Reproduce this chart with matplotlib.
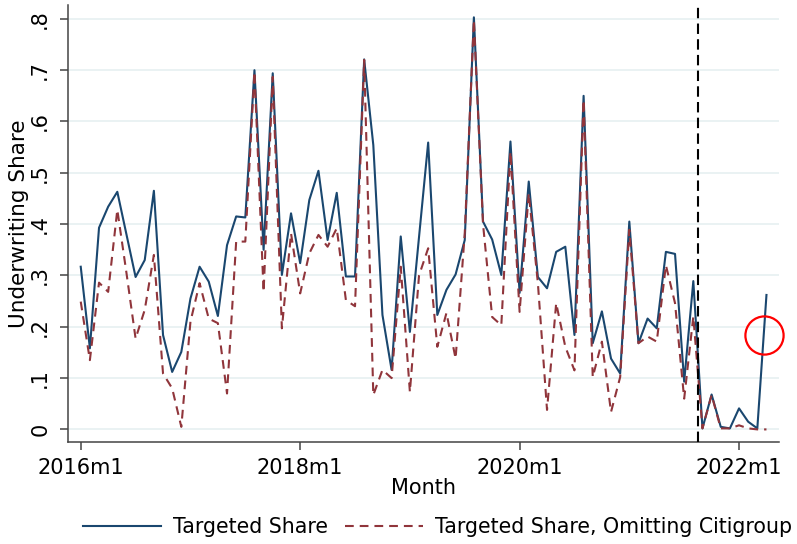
import matplotlib
matplotlib.use("Agg")
import matplotlib.pyplot as plt
import numpy as np
import pandas as pd

# ---- data ----
months = pd.period_range("2016-01", "2022-04", freq="M")
month_labels = [f"{p.year}m{p.month}" for p in months]

targeted_share = [
    0.317, 0.158, 0.393, 0.434, 0.463, 0.380, 0.297, 0.330, 0.465, 0.184, 0.112, 0.151,
    0.255, 0.317, 0.288, 0.221, 0.359, 0.415, 0.413, 0.700, 0.350, 0.694, 0.301, 0.421,
    0.324, 0.447, 0.504, 0.369, 0.461, 0.298, 0.298, 0.721, 0.554, 0.223, 0.116, 0.376,
    0.190, 0.375, 0.559, 0.223, 0.272, 0.302, 0.369, 0.803, 0.405, 0.370, 0.301, 0.561,
    0.266, 0.483, 0.297, 0.275, 0.346, 0.356, 0.184, 0.650, 0.168, 0.230, 0.138, 0.109,
    0.405, 0.168, 0.216, 0.197, 0.346, 0.342, 0.093, 0.289, 0.002, 0.068, 0.005, 0.002,
    0.041, 0.015, 0.002, 0.262,
]
targeted_share_no_citi = [
    0.249, 0.135, 0.286, 0.268, 0.428, 0.305, 0.177, 0.233, 0.340, 0.109, 0.080, 0.005,
    0.210, 0.285, 0.216, 0.207, 0.070, 0.366, 0.366, 0.697, 0.268, 0.687, 0.197, 0.382,
    0.265, 0.343, 0.379, 0.356, 0.392, 0.252, 0.240, 0.720, 0.067, 0.116, 0.100, 0.317,
    0.073, 0.300, 0.353, 0.161, 0.227, 0.138, 0.382, 0.798, 0.400, 0.219, 0.203, 0.541,
    0.229, 0.460, 0.285, 0.038, 0.246, 0.161, 0.115, 0.642, 0.102, 0.171, 0.034, 0.102,
    0.389, 0.168, 0.181, 0.171, 0.320, 0.246, 0.060, 0.220, 0.002, 0.067, 0.002, 0.002,
    0.008, 0.002, 0.000, 0.000,
]
x_tick_labels = ["2016m1", "2018m1", "2020m1", "2022m1"]
y_ticks = [0, 0.1, 0.2, 0.3, 0.4, 0.5, 0.6, 0.7, 0.8]
y_tick_labels = ["0", ".1", ".2", ".3", ".4", ".5", ".6", ".7", ".8"]
event_month = 67.5          # between 2021m8 and 2021m9
circle_x, circle_y = 74.77, 0.184

# ---- plot ----
plt.rcParams["font.family"] = ["DejaVu Sans"]
plt.rcParams["lines.scale_dashes"] = False

fig = plt.figure(figsize=(7.97, 5.44), dpi=100)
ax = fig.add_axes([0.0857, 0.188, 0.9774 - 0.0857, 0.9908 - 0.188])

x = np.arange(len(months))
blue = "#1a476f"
red = "#90353b"

ax.plot(x, targeted_share, color=blue, lw=1.5, label="Targeted Share", zorder=3)
ax.plot(x, targeted_share_no_citi, color=red, lw=1.5, dashes=(6.3, 4.3),
        label="Targeted Share, Omitting Citigroup", zorder=3)
ax.axvline(event_month, color="black", lw=1.5, dashes=(7.5, 3.8), zorder=4)
ax.plot([circle_x], [circle_y], marker="o", ms=27.5, mfc="none", mec="red",
        mew=1.6, zorder=5, linestyle="none", clip_on=False)

ax.set_xlim(-1.36, 76.37)
ax.set_ylim(-0.024, 0.827)

fs = 15
tick_pos = [month_labels.index(l) for l in x_tick_labels]
ax.set_xticks(tick_pos)
ax.set_xticklabels(x_tick_labels, fontsize=fs)
ax.set_yticks(y_ticks)
ax.set_yticklabels(y_tick_labels, fontsize=fs, rotation=90, va="center")

ax.yaxis.grid(True, color="#eaf2f3", lw=1.4, zorder=0)
ax.set_axisbelow(True)
for s in ["top", "right"]:
    ax.spines[s].set_visible(False)
for s in ["left", "bottom"]:
    ax.spines[s].set_color("#444444")
    ax.spines[s].set_linewidth(1.1)
ax.tick_params(axis="both", length=6, width=1.1, color="#444444", pad=6)
ax.tick_params(axis="y", pad=7)

ax.set_xlabel("Month", fontsize=fs, labelpad=0)
ax.set_ylabel("Underwriting Share", fontsize=15.5, labelpad=1)

fig.legend(loc="center", bbox_to_anchor=(0.549, 0.031), ncol=2, frameon=False,
           fontsize=14.8, handlelength=3.8, handletextpad=0.6, columnspacing=0.8)

fig.savefig("out.png", dpi=100)
